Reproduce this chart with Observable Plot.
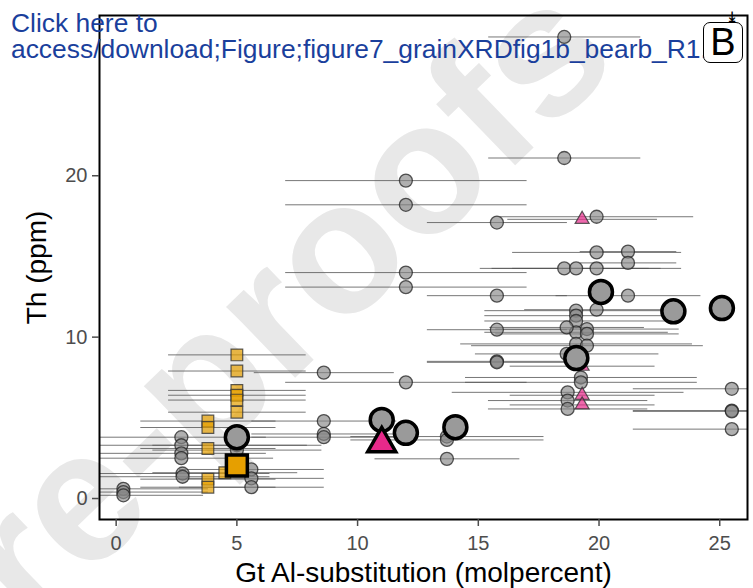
<!DOCTYPE html>
<html><head><meta charset="utf-8">
<script src="https://cdn.jsdelivr.net/npm/d3@7"></script>
<script src="https://cdn.jsdelivr.net/npm/@observablehq/plot@0.6"></script>
<style>
html,body{margin:0;padding:0;background:#fff;}
#wrap{position:relative;width:753px;height:588px;overflow:hidden;font-family:"Liberation Sans",Arial,sans-serif;}
#wm{position:absolute;left:0;top:0;z-index:0;}
#chart{position:absolute;left:0;top:0;z-index:1;}
#link{position:absolute;left:11px;top:10px;z-index:2;color:#1a3f9c;font-size:26.4px;line-height:26px;white-space:nowrap;}
#badge{position:absolute;left:703px;top:22px;width:40px;height:41px;box-sizing:border-box;border:1.5px solid #000;border-radius:7px;background:#fff;z-index:3;font-size:38px;line-height:39px;text-align:center;color:#000;}
#pin{position:absolute;left:729px;top:9px;z-index:4;font-size:14px;line-height:14px;font-weight:bold;font-family:"DejaVu Sans",sans-serif;color:#000;}
</style></head>
<body><div id="wrap">
<svg id="wm" width="753" height="588"><text transform="translate(622,62) rotate(-44)" text-anchor="end" font-size="187" font-weight="bold" font-family="Liberation Sans, Arial, sans-serif" fill="#e8e8e8">Journal Pre-proofs</text></svg>
<div id="chart"></div>
<div id="link">Click here to<br>access/download;Figure;figure7_grainXRDfig1b_bearb_R1.</div>
<div id="badge">B</div>
<div id="pin">⤓</div>
</div>
<script>
// Grey samples (small circles)
const greyX = [0.3,0.3,0.3, 2.7,2.7,2.7,2.7,2.75,2.75, 5.0,5.0, 5.6,5.6,5.6, 8.6,8.6,8.6,8.6, 12.0,12.0,12.0,12.0,12.0, 13.7,13.7,13.7, 15.77,15.77,15.77,15.77,15.77, 18.56,18.56, 19.9,19.9, 21.2,21.2, 18.56,19.05,19.9, 21.2, 19.9, 19.05,19.05,19.05,19.05,19.05, 19.5,19.5,19.5, 18.66,18.66, 19.25,19.25, 18.7,18.7,18.7, 25.5,25.5,25.5,25.5];
const greyY = [0.6,0.4,0.2, 3.8,3.3,2.8,2.5,1.55,1.35, 3.3,3.0, 1.8,1.25,0.7, 7.8,4.8,4.0,3.8, 7.2,19.7,18.2,14.0,13.1, 3.84,3.63,2.46, 17.1,12.57,10.46,8.5,8.44, 28.6,21.1, 17.46,15.25, 15.3,14.6, 14.26,14.26,14.26, 12.57, 11.7, 11.64,11.33,11.0,10.3,9.58, 10.5,10.2,9.47, 10.6,8.96, 7.5,7.2, 6.58,6.07,5.55, 6.8,5.45,5.4,4.3];
const greyErr = [3.5,3.5,3.3, 3.5,5.2,3.5,3.8,3.6,3.6, 3.5,3.5, 3.0,3.0,3.0, 2.9,3.0,3.0,3.0, 5.0,5.0,5.0,5.0,5.0, 4.0,4.0,3.0, 2.9,2.9,2.9,2.9,2.9, 3.15,3.15, 4.0,3.5, 2.0,2.0, 3.5,3.5,3.5, 3.0, 3.0, 3.8,3.8,3.8,3.8,4.8, 3.8,3.8,4.8, 3.2,3.8, 4.8,4.8, 4.8,3.3,3.3, 4.1,4.1,4.1,4.1];
// Orange samples (small squares)
const orangeX = [3.8,3.8,3.8,3.8,3.8, 5.0,5.0,5.0,5.0,5.0,5.0, 4.5];
const orangeY = [4.8,4.4,3.1,1.2,0.7, 8.9,7.9,6.7,6.4,6.1,5.35, 1.6];
const orangeErr = [2.8,2.8,2.8,2.8,2.8, 2.85,2.85,2.85,2.85,2.85,2.85, 3.0];
// Pink samples (small triangles)
const pinkX = [19.3,19.3,19.3,19.3];
const pinkY = [17.3,8.2,6.4,5.8];
const pinkErr = [3.1,3.0,3.0,3.0];
// Group means (large symbols)
const meanX = [5.0, 11.0, 12.0, 14.05, 19.06, 20.08, 23.08, 25.09, 5.0, 11.0];
const meanY = [3.8, 4.87, 4.07, 4.42, 8.7, 12.8, 11.6, 11.8, 2.05, 3.4];
const meanGroup = ["grey","grey","grey","grey","grey","grey","grey","grey","orange","pink"];
// Axes
const xTicks = [0,5,10,15,20,25];
const yTicks = [0,10,20];
const xTitle = "Gt Al-substitution (molpercent)";
const yTitle = "Th (ppm)";

const rows = (xs, ys, es) => xs.map((x, i) => ({x, y: ys[i], e: es[i]}));
const grey = rows(greyX, greyY, greyErr);
const orange = rows(orangeX, orangeY, orangeErr);
const pink = rows(pinkX, pinkY, pinkErr);
const all = [...grey, ...orange, ...pink];
const means = meanX.map((x, i) => ({x, y: meanY[i], g: meanGroup[i]}));
const meanStyle = {
  grey: {symbol: "circle", r: 11.5, fill: "#9a9a9a"},
  orange: {symbol: "square", r: 11.8, fill: "#E69F00"},
  pink: {symbol: "triangle", r: 10.4, fill: "#E7298A"}
};

const plot = Plot.plot({
  width: 753, height: 588,
  marginLeft: 99, marginRight: 6, marginTop: 15, marginBottom: 69,
  style: {background: "transparent", fontFamily: "Liberation Sans, Arial, sans-serif", overflow: "visible"},
  x: {domain: [-0.69, 26.15], label: null},
  y: {domain: [-1.3, 29.93], label: null},
  marks: [
    Plot.link(all, {x1: d => d.x - d.e, x2: d => d.x + d.e, y1: "y", y2: "y", stroke: "#555", strokeWidth: 1, strokeOpacity: 0.8, clip: true}),
    Plot.dot(grey, {x: "x", y: "y", r: 6.5, symbol: "circle", fill: "#858585", fillOpacity: 0.65, stroke: "#222", strokeOpacity: 0.75, strokeWidth: 1.3}),
    Plot.dot(orange, {x: "x", y: "y", r: 6.6, symbol: "square", fill: "#E69F00", fillOpacity: 0.7, stroke: "#333", strokeOpacity: 0.8, strokeWidth: 1.2}),
    Plot.dot(pink, {x: "x", y: "y", r: 5.2, symbol: "triangle", fill: "#E7298A", fillOpacity: 0.7, stroke: "#333", strokeOpacity: 0.8, strokeWidth: 1.2}),
    ...["grey", "orange", "pink"].map(g => Plot.dot(means.filter(d => d.g === g), {x: "x", y: "y", symbol: meanStyle[g].symbol, r: meanStyle[g].r, fill: meanStyle[g].fill, stroke: "#000", strokeWidth: 3.5})),
    Plot.frame({stroke: "#000", strokeWidth: 2}),
    Plot.axisX({ticks: xTicks, tickSize: 7, tickPadding: 9, fontSize: 20, color: "#4d4d4d", strokeWidth: 1.5, label: null}),
    Plot.axisY({ticks: yTicks, tickSize: 7, tickPadding: 5, fontSize: 20, color: "#4d4d4d", strokeWidth: 1.5, label: null}),
    Plot.text([xTitle], {text: d => d, frameAnchor: "bottom", dy: 54, textAnchor: "middle", lineAnchor: "middle", fontSize: 28, fill: "#000"}),
    Plot.text([yTitle], {text: d => d, frameAnchor: "left", dx: -62, rotate: -90, textAnchor: "middle", lineAnchor: "middle", fontSize: 28, fill: "#000"})
  ]
});
document.getElementById("chart").appendChild(plot);
</script>
</body></html>
